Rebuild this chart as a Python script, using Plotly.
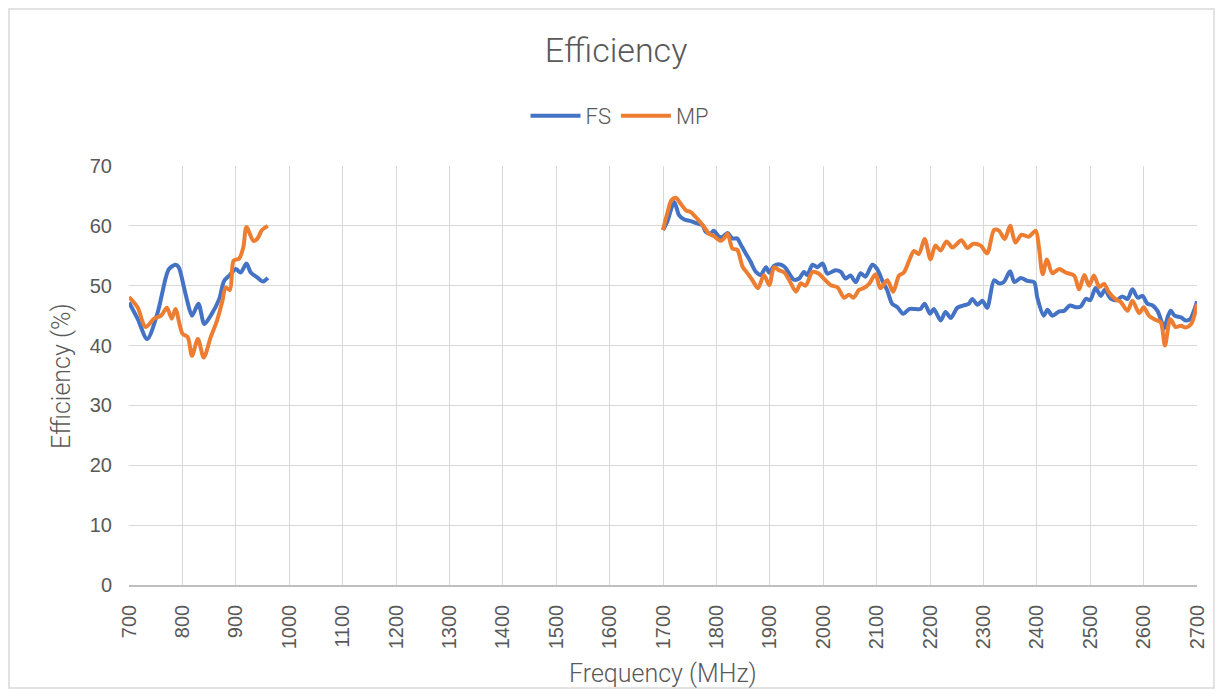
import plotly.graph_objects as go

# ---- data ----
fs_freq_low = [700, 716, 734, 753, 769, 775, 787, 793, 803, 809, 818, 830, 841, 853, 869, 878, 888, 900, 909, 920, 928, 940, 951, 960]
fs_low = [47.2, 44.5, 41.1, 45.3, 51.4, 52.8, 53.5, 53.1, 49.7, 47.5, 45.0, 47.0, 43.6, 45.0, 47.8, 50.8, 51.7, 52.8, 52.2, 53.7, 52.2, 51.4, 50.7, 51.3]

fs_freq_high = [1700, 1708, 1721, 1730, 1739, 1752, 1764, 1774, 1780, 1789, 1795, 1805, 1811, 1821, 1830, 1839, 1846, 1855, 1864,
                1874, 1883, 1893, 1899, 1908, 1917, 1927, 1936, 1945, 1955, 1964, 1970, 1980, 1989, 1999, 2008, 2023, 2033,
                2042, 2051, 2061, 2070, 2079, 2092, 2101, 2111, 2120, 2129, 2139, 2150, 2161, 2173, 2182, 2190, 2200, 2207,
                2220, 2229, 2239, 2251, 2263, 2273, 2279, 2289, 2298, 2307, 2320, 2329, 2338, 2350, 2358, 2370, 2382, 2395,
                2401, 2413, 2420, 2429, 2442, 2451, 2462, 2473, 2482, 2492, 2500, 2510, 2520, 2527, 2539, 2550, 2560, 2570,
                2579, 2589, 2598, 2607, 2617, 2626, 2634, 2638, 2646, 2651, 2658, 2670, 2679, 2687, 2695, 2700]
fs_high = [59.3, 60.7, 64.0, 61.8, 61.1, 60.8, 60.4, 60.1, 59.0, 58.7, 59.2, 58.2, 58.1, 58.8, 57.9, 57.9, 56.8, 55.4, 54.0,
           52.3, 51.8, 53.1, 52.2, 53.3, 53.6, 53.2, 52.1, 51.0, 51.2, 52.3, 51.8, 53.5, 53.1, 53.7, 52.0, 52.6, 52.3,
           51.2, 51.7, 50.6, 52.1, 51.5, 53.5, 52.8, 50.8, 49.2, 47.0, 46.4, 45.3, 46.1, 46.1, 46.1, 47.0, 45.3, 46.1,
           44.2, 45.6, 44.6, 46.3, 46.7, 47.0, 47.8, 46.8, 47.5, 46.3, 50.9, 50.4, 50.6, 52.4, 50.6, 51.3, 50.8, 50.6,
           48.0, 45.0, 46.0, 45.0, 45.7, 45.8, 46.7, 46.4, 46.5, 47.8, 47.6, 49.6, 48.3, 49.3, 47.8, 47.6, 48.2, 47.8,
           49.4, 48.0, 48.3, 47.0, 46.7, 45.8, 43.9, 42.8, 45.0, 45.8, 45.0, 44.7, 44.2, 44.4, 46.0, 47.4]

mp_freq_low = [700, 716, 731, 747, 760, 771, 780, 787, 800, 810, 818, 829, 840, 853, 865, 875, 881, 889, 896, 906, 914, 920, 933, 940, 949, 960]
mp_low = [48.1, 46.4, 43.1, 44.5, 45.0, 46.3, 44.5, 46.1, 42.0, 41.4, 38.3, 41.1, 38.0, 41.4, 44.2, 47.5, 49.7, 49.3, 54.2, 54.5, 56.4, 59.8, 57.5, 57.8, 59.3, 60.0]

mp_freq_high = [1700, 1708, 1716, 1724, 1733, 1743, 1752, 1764, 1777, 1786, 1795, 1808, 1814, 1821, 1830, 1839, 1849, 1858, 1867,
                1878, 1889, 1899, 1908, 1917, 1927, 1936, 1949, 1958, 1967, 1980, 1992, 2001, 2014, 2027, 2039, 2048, 2057,
                2067, 2076, 2086, 2098, 2107, 2120, 2131, 2142, 2151, 2161, 2170, 2179, 2190, 2201, 2210, 2220, 2231, 2242,
                2259, 2270, 2281, 2295, 2307, 2320, 2329, 2340, 2350, 2360, 2371, 2385, 2398, 2404, 2411, 2419, 2429, 2442,
                2454, 2470, 2479, 2489, 2498, 2507, 2517, 2526, 2535, 2548, 2557, 2570, 2579, 2592, 2600, 2610, 2622, 2632,
                2640, 2650, 2660, 2670, 2679, 2689, 2695, 2700]
mp_high = [59.3, 62.1, 64.3, 64.7, 63.7, 62.6, 62.3, 61.2, 59.8, 58.7, 58.3, 57.5, 57.9, 58.7, 56.2, 56.0, 53.2, 52.1, 51.0,
           49.6, 51.8, 50.1, 53.1, 52.6, 52.2, 51.0, 49.0, 50.4, 50.0, 52.3, 52.0, 51.2, 50.1, 49.7, 48.0, 48.5, 48.0,
           49.3, 49.6, 50.3, 51.9, 49.6, 50.9, 49.0, 51.7, 52.2, 54.2, 55.8, 55.3, 57.8, 54.4, 56.7, 55.9, 57.4, 56.4,
           57.6, 56.3, 57.0, 56.7, 55.4, 59.3, 59.2, 57.8, 60.0, 57.2, 58.5, 58.2, 59.2, 56.4, 51.9, 54.4, 52.1, 52.8,
           52.2, 51.7, 49.4, 51.8, 50.0, 51.7, 49.8, 50.3, 48.9, 47.7, 47.3, 45.8, 47.5, 45.4, 46.4, 45.0, 44.3, 43.9,
           40.0, 44.4, 43.1, 43.3, 43.0, 43.6, 45.0, 47.0]

x_ticks = list(range(700, 2701, 100))
y_ticks = list(range(0, 71, 10))

# ---- build figure ----
fs_x = fs_freq_low + [None] + fs_freq_high
fs_y = fs_low + [None] + fs_high
mp_x = mp_freq_low + [None] + mp_freq_high
mp_y = mp_low + [None] + mp_high

TFONT = "Roboto"
NFONT = "Liberation Sans"
GRAY = "#595959"

fig = go.Figure()
fig.add_trace(go.Scatter(x=fs_x, y=fs_y, mode="lines", name="FS",
                         line=dict(color="#4472C4", width=4, shape="spline", smoothing=0.8),
                         connectgaps=False))
fig.add_trace(go.Scatter(x=mp_x, y=mp_y, mode="lines", name="MP",
                         line=dict(color="#ED7D31", width=4, shape="spline", smoothing=0.8),
                         connectgaps=False))

# figure is placed at an 8px page offset by the browser
W, H = 1207, 681
L, R, T, B = 121, 18, 158, 104
pw, ph = W - L - R, H - T - B

fig.update_layout(
    width=W, height=H,
    margin=dict(l=L, r=R, t=T, b=B, autoexpand=False),
    paper_bgcolor="white", plot_bgcolor="white",
    font=dict(family=TFONT, color=GRAY, size=16),
    title=dict(text="Efficiency", x=608 / W, xref="container", xanchor="center",
               y=1 - 42 / H, yref="container", yanchor="middle",
               font=dict(size=34, color=GRAY, family=TFONT, weight=300)),
    legend=dict(orientation="h", x=612 / W, xanchor="center", xref="container",
                y=1 - 108 / H, yref="container", yanchor="middle",
                font=dict(size=22, color=GRAY, family=TFONT, weight=300),
                itemwidth=50, bgcolor="rgba(0,0,0,0)"),
    showlegend=True,
    xaxis=dict(range=[700, 2700], tickmode="array", tickvals=x_ticks,
               ticktext=[str(v) for v in x_ticks], tickangle=-90,
               showgrid=True, gridcolor="#d9d9d9", gridwidth=1.3,
               showline=True, linecolor="#bfbfbf", linewidth=1.5,
               zeroline=False, ticks="", ticklabelstandoff=10, automargin=False,
               tickfont=dict(size=20, color=GRAY, family=NFONT)),
    yaxis=dict(range=[0, 70], tickmode="array", tickvals=y_ticks,
               showgrid=True, gridcolor="#d9d9d9", gridwidth=1.3,
               showline=False, zeroline=False, ticks="", ticklabelstandoff=16, automargin=False,
               tickfont=dict(size=20, color=GRAY, family=NFONT)),
    annotations=[
        dict(text="Frequency (MHz)", xref="paper", yref="paper",
             x=(655 - L) / pw, y=-(665 - (T + ph)) / ph, xanchor="center", yanchor="middle",
             showarrow=False, font=dict(size=25, color=GRAY, family=TFONT, weight=300)),
        dict(text="Efficiency (%)", xref="paper", yref="paper",
             x=(53 - L) / pw, y=(T + ph - 368) / ph, xanchor="center", yanchor="middle",
             textangle=-90, showarrow=False,
             font=dict(size=25, color=GRAY, family=TFONT, weight=300)),
    ],
)

# outer chart border
fig.add_shape(type="rect", xref="paper", yref="paper",
              x0=(1 - L) / pw, x1=(W - 1 - L) / pw,
              y0=(T + ph - (H - 1)) / ph, y1=(T + ph - 1) / ph,
              line=dict(color="#d9d9d9", width=1.5), fillcolor="rgba(0,0,0,0)", layer="below")

fig.write_html("out.html")
